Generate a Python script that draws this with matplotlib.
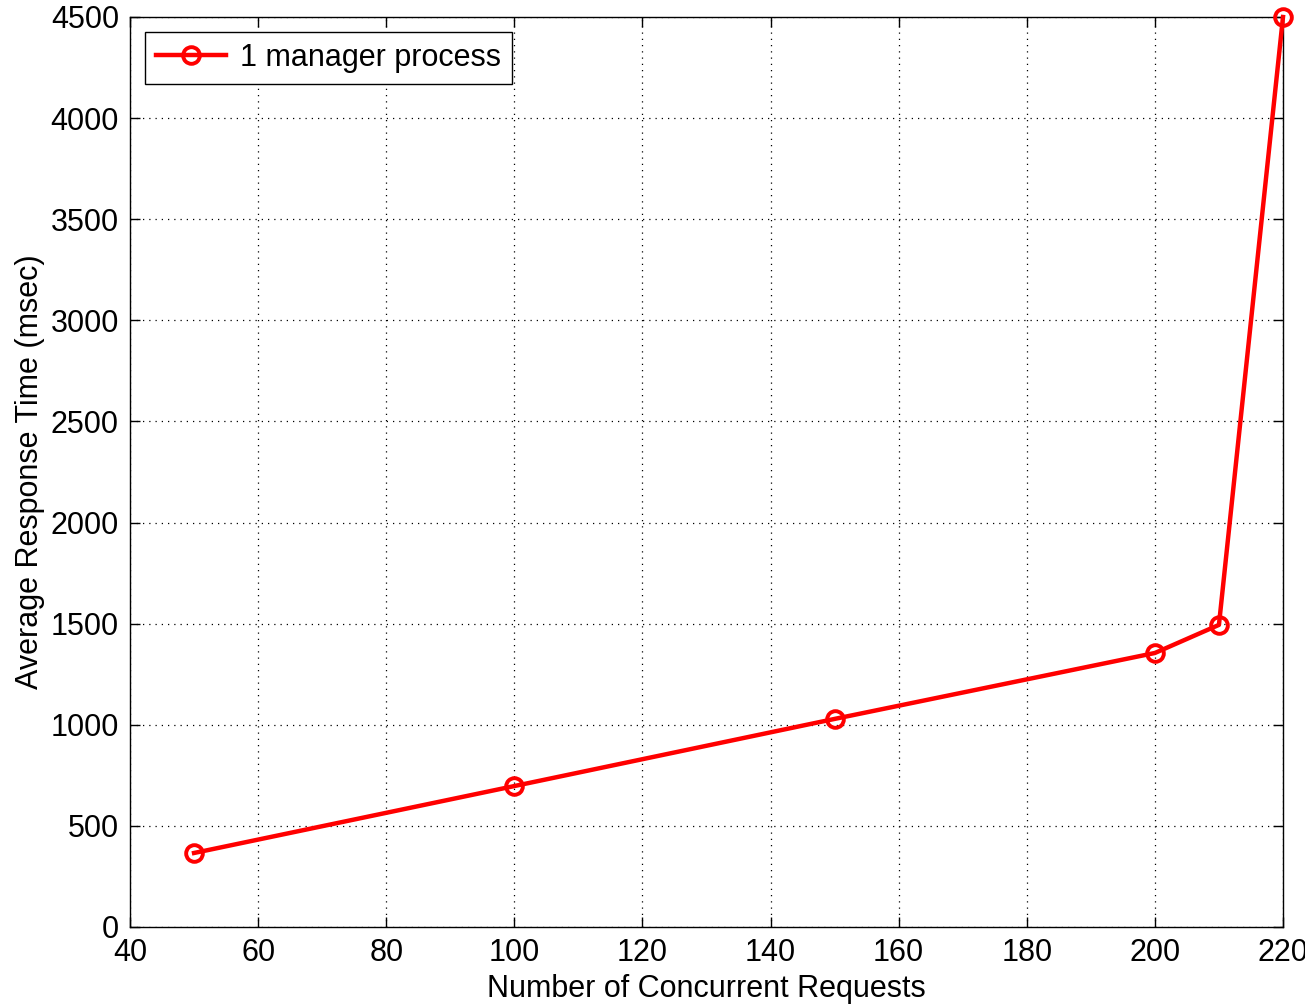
import matplotlib
matplotlib.use("Agg")
import matplotlib.pyplot as plt

requests = [50, 100, 150, 200, 210, 220]
response_ms = [366, 697, 1029, 1355, 1494, 4500]
series_label = "1 manager process"
x_ticks = [40, 60, 80, 100, 120, 140, 160, 180, 200, 220]
y_ticks = [0, 500, 1000, 1500, 2000, 2500, 3000, 3500, 4000, 4500]

plt.rcParams['font.family'] = ['Liberation Sans', 'DejaVu Sans']

fig = plt.figure(figsize=(13.05, 10.07), dpi=100)
ax = fig.add_axes([130/1305, 1 - 927/1007, (1283-130)/1305, (927-17)/1007])

ax.plot(requests, response_ms, color='red', linewidth=3.2, marker='o',
        markersize=12, markerfacecolor='none', markeredgecolor='red',
        markeredgewidth=2.8, label=series_label, clip_on=False, zorder=5)

ax.set_xlim(40, 220)
ax.set_ylim(0, 4500)
ax.set_xticks(x_ticks)
ax.set_yticks(y_ticks)
ax.grid(True, color='black', linestyle=(0, (1, 4)), linewidth=0.9)
ax.tick_params(direction='in', top=True, right=True, length=7, width=1,
               labelsize=22, pad=8)
for s in ax.spines.values():
    s.set_linewidth(1.0)

ax.set_xlabel('Number of Concurrent Requests', fontsize=22, labelpad=4)
ax.set_ylabel('Average Response Time (msec)', fontsize=22, labelpad=4)

leg = ax.legend(loc='upper left', fontsize=22, fancybox=False, edgecolor='black',
                framealpha=1, borderaxespad=0.5, handlelength=2.3,
                borderpad=0.35, handletextpad=0.45)
leg.get_frame().set_linewidth(1.0)

fig.savefig('out.png', dpi=100)
